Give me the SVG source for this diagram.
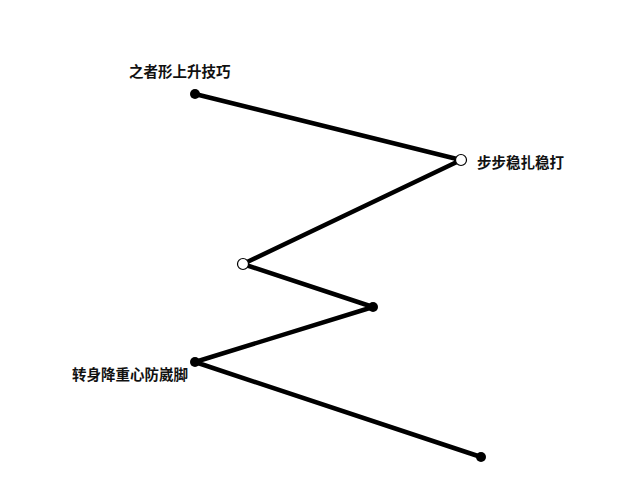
<svg xmlns="http://www.w3.org/2000/svg" width="640" height="480" viewBox="0 0 640 480">
<style>
.lbl{font-family:"Noto Sans CJK SC","Noto Sans",sans-serif;font-size:14.5px;font-weight:bold;fill:#111}
.dot{fill:#000}
.open{fill:#fff;stroke:#000;stroke-width:1.2}
</style>
<rect width="640" height="480" fill="#fff"/>
<g id="connectors" fill="none" stroke="#000" stroke-width="4.5" stroke-linejoin="round" stroke-linecap="round">
<polyline points="195,94 461,160 243,264 373,307 195,362 481,457"/>
</g>
<g id="n1"><circle class="dot" cx="195" cy="94" r="5"/><text class="lbl" x="129" y="77">之者形上升技巧</text></g>
<g id="n2"><circle class="open" cx="461" cy="160" r="5.5"/><text class="lbl" x="477" y="168">步步稳扎稳打</text></g>
<g id="n3"><circle class="open" cx="243" cy="264" r="5.5"/></g>
<g id="n4"><circle class="dot" cx="373" cy="307" r="5"/></g>
<g id="n5"><circle class="dot" cx="195" cy="362" r="5"/><text class="lbl" x="72" y="380">转身降重心防崴脚</text></g>
<g id="n6"><circle class="dot" cx="481" cy="457" r="5"/></g>
</svg>
